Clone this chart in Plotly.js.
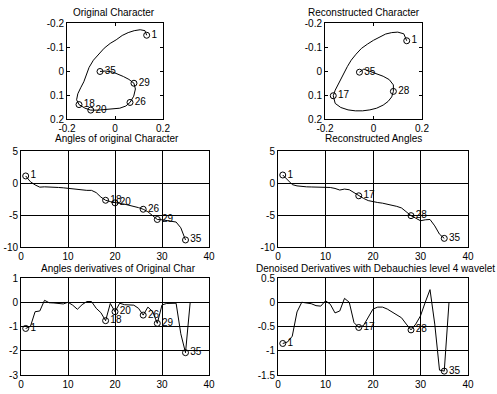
<!DOCTYPE html>
<html>
<head>
<meta charset="utf-8">
<script src="https://cdn.plot.ly/plotly-3.0.1.min.js"></script>
<style>html,body{margin:0;padding:0;background:#fff;}#chart{width:497px;height:394px;}</style>
</head>
<body>
<div id="chart"></div>
<script>
// ---------- Data ----------
// Original character (x, y) coordinates, 35 points
const origCharX = [0.132,0.125,0.105,0.08,0.055,0.03,0.005,-0.02,-0.045,-0.068,-0.09,-0.108,-0.118,-0.13,-0.143,-0.155,-0.16,-0.15,-0.125,-0.101,-0.07,-0.04,-0.01,0.02,0.045,0.0625,0.078,0.085,0.079,0.058,0.035,0.012,-0.01,-0.04,-0.0625];
const origCharY = [-0.149,-0.168,-0.172,-0.168,-0.16,-0.148,-0.13,-0.115,-0.095,-0.07,-0.045,-0.015,0.015,0.045,0.07,0.095,0.12,0.14,0.155,0.163,0.163,0.16,0.158,0.155,0.146,0.131,0.105,0.075,0.051,0.035,0.023,0.012,0.004,0.0,0.002];
const origMarkIdx = [1,18,20,26,29,35];

// Reconstructed character, 35 points
const recCharX = [0.137,0.125,0.1,0.075,0.05,0.025,0.0,-0.025,-0.05,-0.072,-0.092,-0.108,-0.122,-0.133,-0.145,-0.158,-0.166,-0.158,-0.135,-0.105,-0.075,-0.045,-0.015,0.013,0.04,0.06,0.075,0.082,0.082,0.065,0.04,0.013,-0.02,-0.04,-0.058];
const recCharY = [-0.126,-0.155,-0.162,-0.16,-0.154,-0.142,-0.128,-0.112,-0.094,-0.07,-0.045,-0.018,0.01,0.035,0.058,0.08,0.103,0.135,0.152,0.162,0.166,0.166,0.162,0.155,0.142,0.127,0.108,0.085,0.058,0.036,0.022,0.012,0.0,-0.008,0.005];
const recMarkIdx = [1,17,28,35];

// Angles of original character (index 1..35)
const origAngles = [1.1,0.2,-0.3,-0.65,-0.6,-0.6,-0.65,-0.7,-0.75,-0.85,-0.9,-1.05,-1.1,-1.15,-1.15,-1.5,-2.2,-2.7,-2.9,-3.1,-3.2,-3.3,-3.45,-3.6,-3.85,-4.1,-4.5,-5.1,-5.7,-5.75,-5.85,-5.9,-6.1,-7.0,-8.9];
// Reconstructed angles (index 1..35)
const recAngles = [1.25,0.5,-0.25,-0.45,-0.55,-0.6,-0.62,-0.65,-0.66,-0.68,-0.7,-0.85,-1.1,-0.95,-1.05,-1.5,-2.0,-2.4,-2.75,-2.95,-3.05,-3.15,-3.3,-3.45,-3.65,-3.9,-4.5,-5.1,-5.5,-5.9,-5.75,-5.7,-6.7,-8.0,-8.65];

// Angle derivatives of original (index 1..36)
const origDeriv = [-1.08,-1.0,-0.39,-0.36,0.08,-0.02,-0.03,-0.05,-0.07,0.0,-0.12,-0.29,-0.1,0.03,0.03,-0.25,-0.43,-0.76,-0.05,-0.39,-0.04,-0.1,-0.1,-0.12,-0.25,-0.53,-0.2,-0.38,-0.87,-0.11,-0.05,-0.03,-0.04,-1.3,-2.08,0.0];
// Denoised derivatives (index 1..36)
const denDeriv = [-0.85,-0.82,-0.7,-0.2,0.0,-0.02,-0.03,-0.07,-0.08,0.03,-0.04,-0.22,-0.18,0.08,0.0,-0.42,-0.52,-0.48,-0.3,-0.14,-0.1,-0.1,-0.14,-0.2,-0.25,-0.32,-0.45,-0.57,-0.45,-0.28,0.0,0.26,-0.45,-1.4,-1.42,0.0];
const denMarkIdx = [1,17,28,35];

// Tick labels
const charTicksX = [-0.2,0,0.2], charTickTextX = ['-0.2','0','0.2'];
const charTicksY = [-0.2,-0.1,0,0.1,0.2], charTickTextY = ['-0.2','-0.1','0','0.1','0.2'];
const idxTicks = [0,10,20,30,40], idxTickText = ['0','10','20','30','40'];
const angTicks = [5,0,-5,-10], angTickText = ['5','0','-5','-10'];
const derTicks = [1,0,-1,-2,-3], derTickText = ['1','0','-1','-2','-3'];
const denTicks = [0.5,0,-0.5,-1,-1.5], denTickText = ['0.5','0','-0.5','-1','-1.5'];

const titles = ['Original Character','Reconstructed Character','Angles of original Character','Reconstructed Angles','Angles derivatives of Original Char','Denoised Derivatives with Debauchies level 4 wavelet'];

// ---------- Build ----------
const W = 497, H = 394;
const FONT = {family:'Arial, "Liberation Sans", Helvetica, sans-serif', size:10, color:'#000'};
const idxOf = (n) => Array.from({length:n},(_,i)=>i+1);
const pick = (arr, idx) => idx.map(i=>arr[i-1]);

const lineStyle = {color:'#000', width:1};
const mk = {symbol:'circle-open', size:6, color:'#000', line:{width:1,color:'#000'}};

function markerTrace(xs, ys, idx, xa, ya){
  return {x: pick(xs, idx), y: pick(ys, idx), xaxis:xa, yaxis:ya, mode:'markers+text',
    text: idx.map(String), textposition:'middle right', textfont:FONT, marker:mk,
    cliponaxis:false, hoverinfo:'skip', showlegend:false};
}

const iA = idxOf(35), iD = idxOf(36);
const traces = [
  {x:origCharX, y:origCharY, xaxis:'x', yaxis:'y', mode:'lines', line:lineStyle, showlegend:false},
  markerTrace(origCharX, origCharY, origMarkIdx, 'x', 'y'),
  {x:recCharX, y:recCharY, xaxis:'x2', yaxis:'y2', mode:'lines', line:lineStyle, showlegend:false},
  markerTrace(recCharX, recCharY, recMarkIdx, 'x2', 'y2'),
  {x:iA, y:origAngles, xaxis:'x3', yaxis:'y3', mode:'lines', line:lineStyle, showlegend:false},
  markerTrace(iA, origAngles, origMarkIdx, 'x3', 'y3'),
  {x:iA, y:recAngles, xaxis:'x4', yaxis:'y4', mode:'lines', line:lineStyle, showlegend:false},
  markerTrace(iA, recAngles, recMarkIdx, 'x4', 'y4'),
  {x:iD, y:origDeriv, xaxis:'x5', yaxis:'y5', mode:'lines', line:lineStyle, showlegend:false},
  markerTrace(iD, origDeriv, origMarkIdx, 'x5', 'y5'),
  {x:iD, y:denDeriv, xaxis:'x6', yaxis:'y6', mode:'lines', line:lineStyle, showlegend:false},
  markerTrace(iD, denDeriv, denMarkIdx, 'x6', 'y6')
];

// pixel boxes [left, right, top, bottom]
const boxes = [[67,163,23,119],[325,422,23,119],[21,209,151,247],[278,468,151,247],[21,209,278,375],[278,468,278,375]];
const titlePos = [[114,12.5],[364,12.5],[117,138.5],[373,138.5],[118,268.5],[375,268.5]];

function baseAxis(){
  return {showline:true, linecolor:'#000', linewidth:1, mirror:true, zeroline:false,
    tickfont:FONT, fixedrange:true};
}
const layout = {width:W, height:H, margin:{l:0,r:0,t:0,b:0}, paper_bgcolor:'#fff', plot_bgcolor:'#fff',
  font:FONT, showlegend:false, annotations:[]};

boxes.forEach((b,k)=>{
  const n = k+1;
  const xa = baseAxis(), ya = baseAxis();
  xa.domain = [b[0]/W, b[1]/W];
  ya.domain = [1-b[3]/H, 1-b[2]/H];
  xa.anchor = 'y'+(n===1?'':n);
  ya.anchor = 'x'+(n===1?'':n);
  if(k<2){
    xa.range=[-0.2,0.2]; xa.tickvals=charTicksX; xa.ticktext=charTickTextX;
    ya.range=[0.2,-0.2]; ya.tickvals=charTicksY; ya.ticktext=charTickTextY;
    [xa,ya].forEach(a=>{a.ticks='inside'; a.ticklen=3; a.tickcolor='#000'; a.mirror='ticks'; a.showgrid=false;});
  } else {
    xa.range=[0,40]; xa.tickvals=idxTicks; xa.ticktext=idxTickText;
    if(k<4){ ya.range=[-10,5]; ya.tickvals=angTicks; ya.ticktext=angTickText; }
    else if(k===4){ ya.range=[-3,1]; ya.tickvals=derTicks; ya.ticktext=derTickText; }
    else { ya.range=[-1.5,0.5]; ya.tickvals=denTicks; ya.ticktext=denTickText; }
    [xa,ya].forEach(a=>{a.ticks=''; a.showgrid=true; a.gridcolor='#000'; a.gridwidth=1;});
  }
  layout['xaxis'+(n===1?'':n)] = xa;
  layout['yaxis'+(n===1?'':n)] = ya;
  layout.annotations.push({text:titles[k], xref:'paper', yref:'paper', x:titlePos[k][0]/W, y:1-titlePos[k][1]/H,
    xanchor:'center', yanchor:'middle', showarrow:false, font:FONT});
});

Plotly.newPlot('chart', traces, layout, {staticPlot:true, displayModeBar:false});
</script>
</body>
</html>
